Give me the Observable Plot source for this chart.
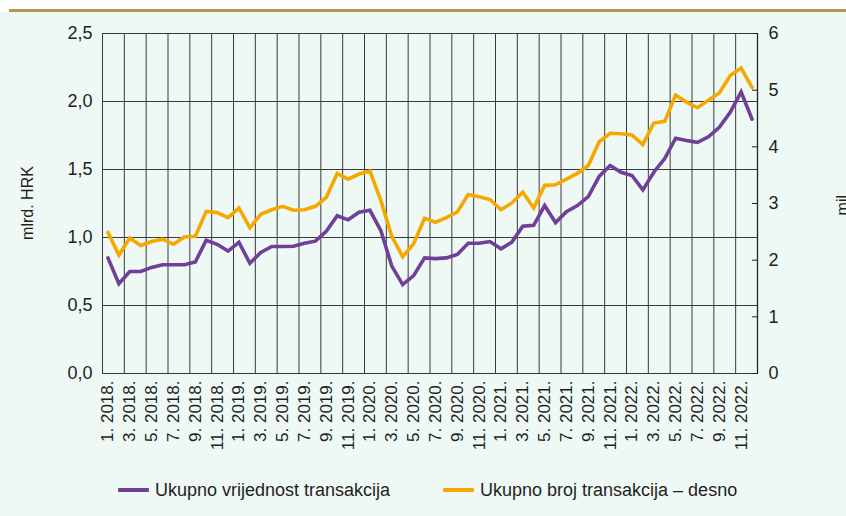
<!DOCTYPE html>
<html><head><meta charset="utf-8">
<script src="https://cdn.jsdelivr.net/npm/d3@7"></script>
<script src="https://cdn.jsdelivr.net/npm/@observablehq/plot@0.6"></script>
<style>
html,body{margin:0;padding:0;background:#fff;}
#wrap{position:relative;width:846px;height:516px;overflow:hidden;background:#fff;font-family:"Liberation Sans",Arial,sans-serif;}
#panel{position:absolute;left:0;top:12px;width:846px;height:504px;background:#eef8f5;}
#topline{position:absolute;left:9px;top:9px;width:837px;height:2.5px;background:#b8985a;}
#chart{position:absolute;left:0;top:0;}
#legend{position:absolute;left:0;top:478px;width:846px;height:24px;font-size:18px;color:#231f20;}
.item{position:absolute;top:0;display:flex;align-items:center;height:24px;}
.sw{width:31px;height:4px;margin-right:6px;border-radius:1px;}
</style>
</head><body>
<div id="wrap">
  <div id="panel"></div>
  <div id="topline"></div>
  <div id="chart"></div>
  <div id="legend"></div>
</div>
<script>
const years = [2018, 2019, 2020, 2021, 2022];
const months = years.flatMap(y => d3.range(1, 13).map(m => `${m}. ${y}.`));

const seriesNames = ["Ukupno vrijednost transakcija", "Ukupno broj transakcija – desno"];
const seriesColors = ["#703f97", "#f5a800"];

// mlrd. HRK (left axis)
const valueSeries = [
  0.85, 0.66, 0.75, 0.75, 0.78, 0.80, 0.80, 0.80, 0.82, 0.98,
  0.95, 0.90, 0.965, 0.81, 0.89, 0.934, 0.934, 0.936, 0.958, 0.973,
  1.046, 1.16, 1.13, 1.186, 1.20, 1.05, 0.79, 0.654, 0.72, 0.85,
  0.845, 0.85, 0.875, 0.958, 0.958, 0.97, 0.917, 0.966, 1.083, 1.09,
  1.235, 1.11, 1.19, 1.235, 1.30, 1.45, 1.53, 1.48, 1.456, 1.35,
  1.48, 1.58, 1.73, 1.713, 1.70, 1.74, 1.81, 1.92, 2.07, 1.87
];
// mil. (right axis)
const countSeries = [
  2.49, 2.09, 2.39, 2.26, 2.33, 2.37, 2.28, 2.41, 2.42, 2.86,
  2.84, 2.75, 2.92, 2.57, 2.81, 2.89, 2.95, 2.88, 2.89, 2.95,
  3.11, 3.53, 3.43, 3.52, 3.57, 3.05, 2.42, 2.06, 2.29, 2.74,
  2.67, 2.75, 2.85, 3.16, 3.12, 3.07, 2.89, 3.01, 3.20, 2.92,
  3.32, 3.33, 3.43, 3.53, 3.67, 4.09, 4.24, 4.23, 4.21, 4.04,
  4.42, 4.45, 4.91, 4.79, 4.69, 4.82, 4.95, 5.26, 5.39, 5.05
];

const leftTicks = [0, 0.5, 1, 1.5, 2, 2.5];
const rightTicks = [0, 1, 2, 3, 4, 5, 6];
const leftMax = 2.5, rightMax = 6;
const toLeft = v => v * leftMax / rightMax;

const xTickIdx = d3.range(0, months.length, 2);
const gridX = d3.range(0, months.length + 1, 2).map(i => i - 0.5);

const valueData = valueSeries.map((v, i) => ({i, v}));
const countData = countSeries.map((v, i) => ({i, v}));

const font = '"Liberation Sans", Arial, sans-serif';

const plot = Plot.plot({
  width: 846,
  height: 470,
  marginLeft: 102,
  marginRight: 89,
  marginTop: 33,
  marginBottom: 97,
  style: {fontFamily: font, fontSize: "18px", background: "transparent", color: "#231f20"},
  x: {type: "linear", domain: [-0.5, months.length - 0.5]},
  y: {type: "linear", domain: [0, leftMax]},
  marks: [
    Plot.ruleX(gridX, {stroke: "#3a3a3a", strokeWidth: 1}),
    Plot.ruleY(leftTicks, {stroke: "#3a3a3a", strokeWidth: 1}),
    Plot.ruleX([months.length - 0.5], {stroke: "#222", strokeWidth: 1.3}),
    Plot.line(countData, {x: "i", y: d => toLeft(d.v), stroke: seriesColors[1], strokeWidth: 3.6, strokeLinejoin: "miter", strokeMiterlimit: 3}),
    Plot.line(valueData, {x: "i", y: "v", stroke: seriesColors[0], strokeWidth: 3.6, strokeLinejoin: "miter", strokeMiterlimit: 3}),
    Plot.axisY(leftTicks, {anchor: "left", tickSize: 0, tickPadding: 10, fontSize: 18,
      tickFormat: d => d.toFixed(1).replace(".", ","), label: null}),
    Plot.axisY(rightTicks.map(toLeft), {anchor: "right", tickSize: 6, dx: -6, stroke: "#222",
      tickFormat: () => "", label: null}),
    Plot.axisY(rightTicks.map(toLeft), {anchor: "right", tickSize: 0, tickPadding: 11, fontSize: 18,
      tickFormat: v => String(Math.round(v * rightMax / leftMax)), label: null}),
    Plot.axisX(xTickIdx, {anchor: "bottom", tickSize: 0, tickPadding: 7, tickRotate: -90, fontSize: 17,
      tickFormat: i => months[i], label: null})
  ]
});

document.getElementById("chart").appendChild(plot);

const svg = d3.select(plot);
svg.append("text")
  .attr("transform", "translate(33,203) rotate(-90)")
  .attr("text-anchor", "middle")
  .attr("font-size", 16).attr("fill", "#231f20").attr("font-family", font)
  .text("mlrd. HRK");
svg.append("text")
  .attr("transform", "translate(848,203) rotate(-90)")
  .attr("text-anchor", "middle")
  .attr("font-size", 16).attr("fill", "#231f20").attr("font-family", font)
  .text("mil.");

const legend = d3.select("#legend");
const lefts = [118, 443];
seriesNames.forEach((name, k) => {
  const it = legend.append("div").attr("class", "item").style("left", lefts[k] + "px");
  it.append("div").attr("class", "sw").style("background", seriesColors[k]);
  it.append("span").text(name);
});
</script>
</body></html>
